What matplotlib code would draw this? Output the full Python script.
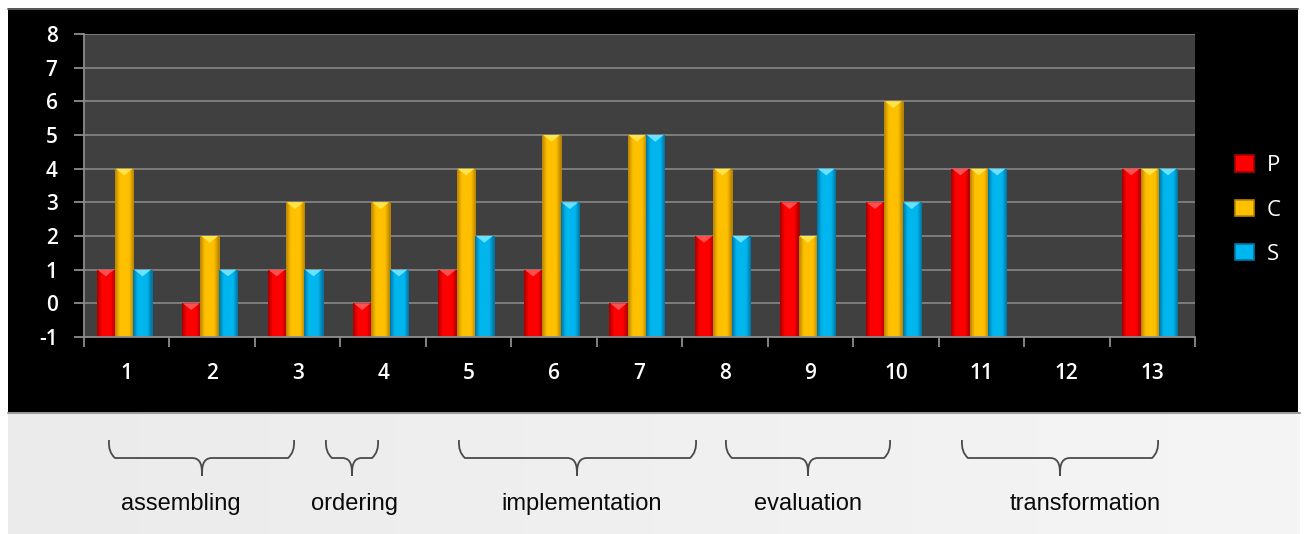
import numpy as np
import matplotlib.pyplot as plt
from matplotlib.colors import LinearSegmentedColormap
from matplotlib.patches import Rectangle, Patch, PathPatch
from matplotlib.path import Path

plt.rcParams["axes.unicode_minus"] = False

# ---- data ----
groups = list(range(1, 14))
series_names = ["P", "C", "S"]
p_vals = [1, 0, 1, 0, 1, 1, 0, 2, 3, 3, 4, np.nan, 4]
c_vals = [4, 2, 3, 3, 4, 5, 5, 4, 2, 6, 4, np.nan, 4]
s_vals = [1, 1, 1, 1, 2, 3, 5, 2, 4, 3, 4, np.nan, 4]
y_ticks = list(range(-1, 9))
phases = ["assembling", "ordering", "implementation", "evaluation", "transformation"]

# ---- styling ----
base_colors = ["#ff0000", "#ffc000", "#00b6ee"]
dark_colors = ["#a80000", "#b88400", "#0075a5"]
cap_colors = ["#ff5050", "#ffe44a", "#6ae2ff"]

W, H = 1304, 534
fig = plt.figure(figsize=(W / 100, H / 100), dpi=100)
fig.patch.set_facecolor("white")

# background layer in pixel coordinates
bg = fig.add_axes([0, 0, 1, 1], zorder=0)
bg.set_xlim(0, W)
bg.set_ylim(H, 0)
bg.axis("off")
bg.add_patch(Rectangle((8, 8), 1290, 404, facecolor="black", edgecolor="none"))
bg.plot([8, 1298], [8.5, 8.5], color="#6a6a6a", lw=1.2)
grad_bg = np.linspace(0, 1, 256).reshape(1, -1)
bg_cmap = LinearSegmentedColormap.from_list("panel", ["#ebebeb", "#f0f0f0", "#f5f5f5"])
bg.imshow(grad_bg, cmap=bg_cmap, extent=[8, 1300, 534, 412], aspect="auto", zorder=0.5)
bg.plot([8, 1300], [412.5, 412.5], color="#8a8a8a", lw=1.2, zorder=1)
bg.set_xlim(0, W)
bg.set_ylim(H, 0)

# ---- main chart ----
ax = fig.add_axes([84 / W, (H - 337) / H, (1195 - 84) / W, (337 - 34) / H], zorder=2)
ax.set_facecolor("#404040")
ax.set_xlim(0.5, 13.5)
ax.set_ylim(-1, 8)
ax.set_yticks(y_ticks)
ax.grid(axis="y", color="#828282", lw=1.3)
ax.set_axisbelow(True)
for s in ["top", "right"]:
    ax.spines[s].set_visible(False)
for s in ["left", "bottom"]:
    ax.spines[s].set_color("#8c8c8c")
    ax.spines[s].set_linewidth(1.3)

ax.set_xticks(groups)
ax.set_xticklabels([str(g) for g in groups])
ax.set_xticks(np.arange(0.5, 14.0, 1.0), minor=True)
ax.tick_params(axis="x", which="major", length=0, pad=19, colors="white", labelsize=15)
ax.tick_params(axis="x", which="minor", length=7, width=1.3, color="#8c8c8c")
ax.tick_params(axis="y", length=7, width=1.3, color="#8c8c8c", pad=12,
               labelcolor="white", labelsize=15)
for lab in ax.get_xticklabels() + ax.get_yticklabels():
    lab.set_family("Open Sans")
    lab.set_weight("semibold")

width = 0.215
grad = np.linspace(0, 1, 64).reshape(1, -1)
all_vals = [p_vals, c_vals, s_vals]
for k, vals in enumerate(all_vals):
    cmap = LinearSegmentedColormap.from_list(
        f"bar{k}", [dark_colors[k], base_colors[k], base_colors[k], base_colors[k], dark_colors[k]])
    xs = np.array(groups) + (k - 1) * width - 0.03
    heights = np.array(vals, dtype=float) + 1
    bars = ax.bar(xs, heights, bottom=-1, width=width, color=base_colors[k],
                  edgecolor=dark_colors[k], linewidth=0.6, zorder=2)
    for bar, v in zip(bars, vals):
        if np.isnan(v):
            continue
        x0 = bar.get_x()
        im = ax.imshow(grad, cmap=cmap, extent=[x0, x0 + width, -1, v],
                       aspect="auto", zorder=2.5, interpolation="bilinear")
        im.set_clip_path(bar)
        ax.fill([x0 + 0.01, x0 + width - 0.01, x0 + width / 2], [v, v, v - 0.2],
                color=cap_colors[k], zorder=3, lw=0)
ax.set_xlim(0.5, 13.5)
ax.set_ylim(-1, 8)

# legend
handles = [Patch(facecolor=base_colors[k], edgecolor=dark_colors[k], linewidth=1.2)
           for k in range(3)]
leg = fig.legend(handles, series_names, loc="center left",
                 bbox_to_anchor=(1226 / W, (H - 210) / H), frameon=False,
                 handlelength=0.85, handleheight=0.75, labelspacing=1.05,
                 handletextpad=0.6, borderaxespad=0,
                 prop={"family": "Open Sans", "size": 16})
for t in leg.get_texts():
    t.set_color("white")

# ---- phase braces ----
def brace(x0, x1, xc, ytop, yline, ytip, r=6, rc=10):
    verts = [
        (x0, ytop), (x0 - 1, yline - r), (x0 + r, yline),
        (xc - rc, yline),
        (xc, yline), (xc, yline + rc), (xc, ytip),
        (xc, yline + rc), (xc, yline), (xc + rc, yline),
        (x1 - r, yline),
        (x1 + 1, yline - r), (x1, ytop),
    ]
    codes = [Path.MOVETO, Path.CURVE3, Path.CURVE3,
             Path.LINETO,
             Path.CURVE4, Path.CURVE4, Path.CURVE4,
             Path.CURVE4, Path.CURVE4, Path.CURVE4,
             Path.LINETO,
             Path.CURVE3, Path.CURVE3]
    bg.add_patch(PathPatch(Path(verts, codes), facecolor="none",
                           edgecolor="#4a4a4a", lw=1.3, zorder=3))

brace_spans = [(109, 294, 202), (326, 378, 352), (459, 696, 577),
               (726, 890, 808), (962, 1158, 1060)]
label_x = [181, 355, 582, 808, 1085]
for (x0, x1, xc), lx, name in zip(brace_spans, label_x, phases):
    brace(x0, x1, xc, 440, 458, 476)
    bg.text(lx, 504, name, ha="center", va="center", fontsize=17,
            family="Liberation Sans", color="#0a0a0a", zorder=3)

fig.savefig("out.png", dpi=100, facecolor="white")
